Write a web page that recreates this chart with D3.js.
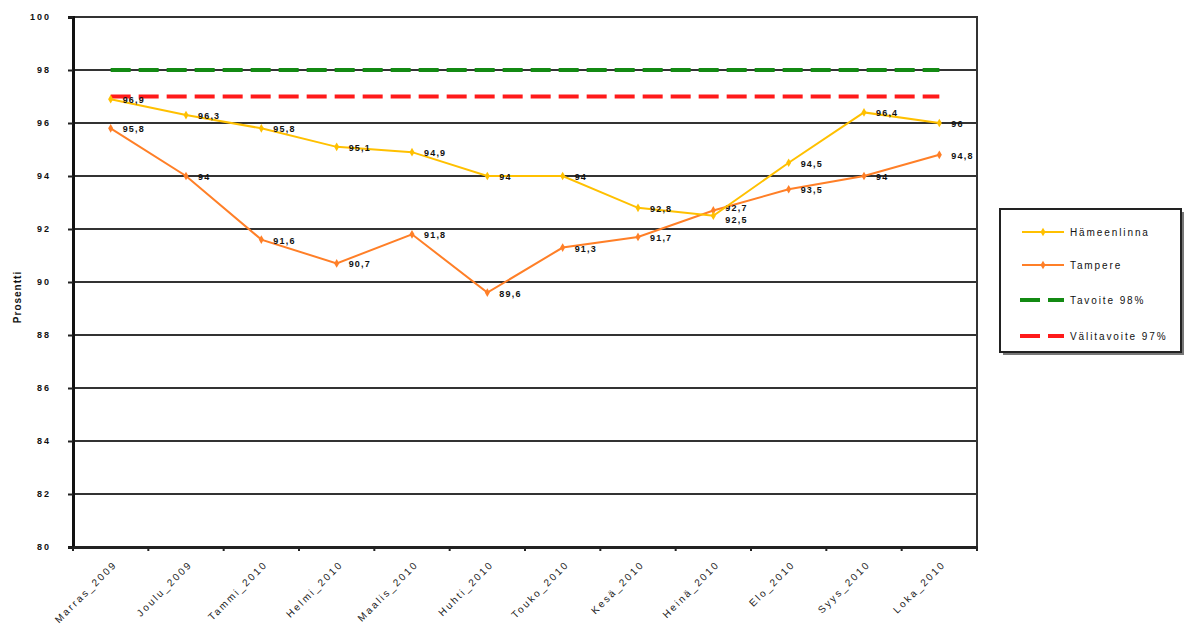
<!DOCTYPE html>
<html><head><meta charset="utf-8">
<script src="https://cdn.jsdelivr.net/npm/d3@7"></script>
<style>body{margin:0;background:#fff;}svg{display:block;font-family:Arial,"Liberation Sans",sans-serif;}</style>
</head><body>
<svg id="c" width="1187" height="626"></svg>
<script>
const categories = ["Marras_2009","Joulu_2009","Tammi_2010","Helmi_2010","Maalis_2010","Huhti_2010","Touko_2010","Kesä_2010","Heinä_2010","Elo_2010","Syys_2010","Loka_2010"];
const hameenlinna = [96.9,96.3,95.8,95.1,94.9,94,94,92.8,92.5,94.5,96.4,96];
const tampere = [95.8,94,91.6,90.7,91.8,89.6,91.3,91.7,92.7,93.5,94,94.8];
const tavoite = 98;
const valitavoite = 97;
const yTicks = [80,82,84,86,88,90,92,94,96,98,100];
const seriesNames = ["Hämeenlinna","Tampere","Tavoite 98%","Välitavoite 97%"];

const svg = d3.select("#c");
const L=73, R=977, T=17, B=547;
const x = d3.scaleBand().domain(categories).range([L,R]);
const y = d3.scaleLinear().domain([80,100]).range([B,T]);
const fmt = v => String(v).replace(".", ",");

// gridlines
svg.append("g").selectAll("line").data(yTicks).join("line")
  .attr("x1",L).attr("x2",R).attr("y1",d=>y(d)).attr("y2",d=>y(d))
  .attr("stroke","#333").attr("stroke-width",2);
svg.append("rect").attr("x",L).attr("y",T).attr("width",R-L).attr("height",B-T)
  .attr("fill","none").attr("stroke","#333").attr("stroke-width",2);

// y axis
const ya = svg.append("g").attr("transform",`translate(${L},0)`)
  .call(d3.axisLeft(y).tickValues(yTicks).tickSize(5).tickPadding(17).tickFormat(d=>d));
ya.select(".domain").attr("stroke","#111").attr("stroke-width",3);
ya.selectAll(".tick line").attr("stroke","#222").attr("stroke-width",2);
ya.selectAll("text").attr("font-size",9).attr("fill","#111").attr("font-weight","bold").attr("letter-spacing",2);

// x axis
const xa = svg.append("g").attr("transform",`translate(0,${B})`)
  .call(d3.axisBottom(x).tickSize(0).tickPadding(0));
xa.select(".domain").attr("stroke","#222").attr("stroke-width",3);
xa.selectAll("text").attr("font-size",10).attr("fill","#222").attr("letter-spacing",2.2)
  .attr("y",0).attr("dy",0)
  .attr("text-anchor","end").attr("transform","translate(7,18) rotate(-45)");
svg.append("g").selectAll("line").data(categories.concat(["_end"])).join("line")
  .attr("x1",(d,i)=>L+i*x.bandwidth()).attr("x2",(d,i)=>L+i*x.bandwidth())
  .attr("y1",B).attr("y2",B+4).attr("stroke","#222").attr("stroke-width",2);

// y title
svg.append("text").attr("transform","translate(21,297) rotate(-90)")
  .attr("text-anchor","middle").attr("font-size",10).attr("font-weight","bold").attr("fill","#111").attr("letter-spacing",1).text("Prosentti");

// target lines
const x0 = x(categories[0])+x.bandwidth()/2, x1 = x(categories[categories.length-1])+x.bandwidth()/2;
svg.append("line").attr("x1",x0).attr("x2",x1).attr("y1",y(tavoite)).attr("y2",y(tavoite))
  .attr("stroke","#138a13").attr("stroke-width",4).attr("stroke-dasharray","20,8");
svg.append("line").attr("x1",x0).attr("x2",x1).attr("y1",y(valitavoite)).attr("y2",y(valitavoite))
  .attr("stroke","#ff1a1a").attr("stroke-width",4).attr("stroke-dasharray","20,8");

const line = d3.line().x((d,i)=>x(categories[i])+x.bandwidth()/2).y(d=>y(d));
function drawSeries(vals,color,dyOff){
  svg.append("path").datum(vals).attr("d",line).attr("fill","none").attr("stroke",color).attr("stroke-width",2);
  svg.append("g").selectAll("path").data(vals).join("path")
    .attr("d",d3.symbol(d3.symbolDiamond,22))
    .attr("transform",(d,i)=>`translate(${x(categories[i])+x.bandwidth()/2},${y(d)})`)
    .attr("fill",color);
  svg.append("g").selectAll("text").data(vals).join("text")
    .attr("x",(d,i)=>x(categories[i])+x.bandwidth()/2+12).attr("y",(d,i)=>y(d)+4+(dyOff[i]||0))
    .attr("font-size",9).attr("font-weight","bold").attr("fill","#111").attr("letter-spacing",1.2).text(fmt);
}
drawSeries(tampere,"#ff7f27",{8:-3});
drawSeries(hameenlinna,"#ffc000",{8:3});

// legend
const lg = svg.append("g");
lg.append("rect").attr("x",1003).attr("y",212).attr("width",181).attr("height",143).attr("fill","#777");
lg.append("rect").attr("x",1000).attr("y",209).attr("width",181).attr("height",143).attr("fill","#fff").attr("stroke","#222").attr("stroke-width",2);
const ly = [232,265,300,336];
const styles = [
  {c:"#ffc000",w:2,dash:null,m:true},
  {c:"#ff7f27",w:2,dash:null,m:true},
  {c:"#138a13",w:4,dash:"20,8",m:false},
  {c:"#ff1a1a",w:4,dash:"20,8",m:false}];
seriesNames.forEach((n,i)=>{
  const s=styles[i];
  const l = lg.append("line").attr("x1",i<2?1022:1020).attr("x2",1064).attr("y1",ly[i]).attr("y2",ly[i])
    .attr("stroke",s.c).attr("stroke-width",s.w);
  if(s.dash) l.attr("stroke-dasharray",s.dash);
  if(s.m) lg.append("path").attr("d",d3.symbol(d3.symbolDiamond,22)).attr("transform",`translate(1043,${ly[i]})`).attr("fill",s.c);
  lg.append("text").attr("x",1070).attr("y",ly[i]+4).attr("font-size",10).attr("fill","#111").attr("letter-spacing",1.9).text(n);
});
</script>
</body></html>
